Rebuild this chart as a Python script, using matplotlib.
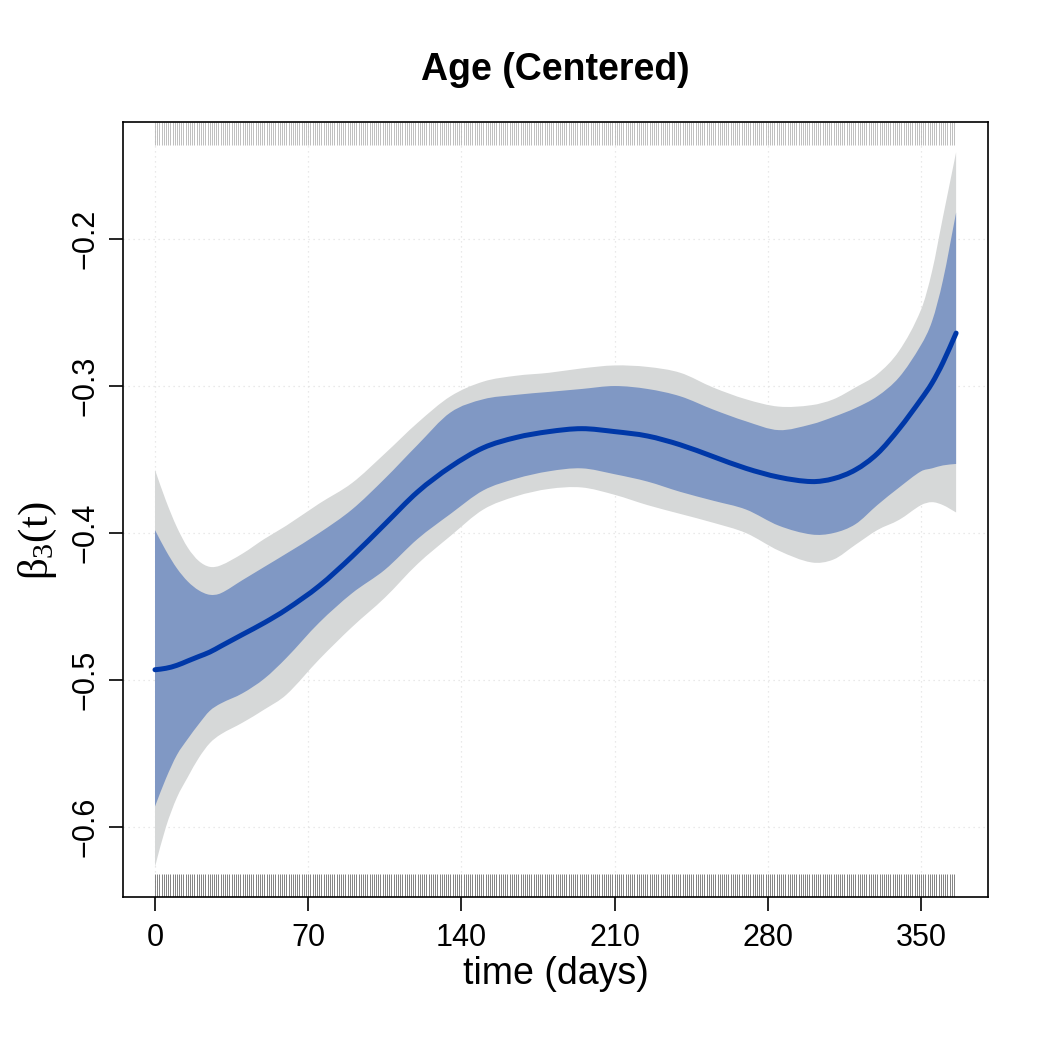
import numpy as np
import matplotlib
matplotlib.use('Agg')
import matplotlib.pyplot as plt
import matplotlib.transforms as mtransforms
from matplotlib.path import Path
from matplotlib.patches import PathPatch

# Estimated coefficient curve and pointwise / simultaneous bands
days = [0, 5, 10, 15, 20, 25, 30, 40, 50, 60, 75, 90, 105, 120, 135, 150,
        165, 180, 195, 210, 225, 240, 255, 270, 285, 300, 310, 320, 330,
        340, 350, 355, 360, 366]

beta = [-0.493, -0.492, -0.490, -0.487, -0.484, -0.481, -0.477, -0.469,
        -0.461, -0.452, -0.436, -0.416, -0.394, -0.372, -0.355, -0.342,
        -0.335, -0.331, -0.329, -0.331, -0.334, -0.340, -0.348, -0.356,
        -0.362, -0.365, -0.363, -0.357, -0.346, -0.329, -0.309, -0.298,
        -0.284, -0.264]

inner_hi = [-0.398, -0.412, -0.424, -0.433, -0.439, -0.442, -0.441, -0.432,
            -0.423, -0.414, -0.400, -0.384, -0.363, -0.340, -0.318, -0.309,
            -0.306, -0.304, -0.302, -0.300, -0.302, -0.307, -0.316, -0.324,
            -0.330, -0.326, -0.321, -0.315, -0.307, -0.294, -0.272, -0.256,
            -0.228, -0.182]

inner_lo = [-0.586, -0.567, -0.551, -0.540, -0.530, -0.521, -0.516, -0.509,
            -0.499, -0.485, -0.461, -0.441, -0.425, -0.404, -0.387, -0.371,
            -0.363, -0.358, -0.356, -0.360, -0.365, -0.372, -0.378, -0.384,
            -0.395, -0.401, -0.400, -0.394, -0.381, -0.369, -0.358, -0.356,
            -0.354, -0.353]

outer_hi = [-0.357, -0.378, -0.396, -0.410, -0.419, -0.423, -0.422, -0.414,
            -0.404, -0.395, -0.380, -0.366, -0.346, -0.325, -0.307, -0.297,
            -0.293, -0.291, -0.288, -0.286, -0.287, -0.291, -0.301, -0.309,
            -0.314, -0.313, -0.309, -0.301, -0.292, -0.276, -0.248, -0.222,
            -0.185, -0.141]

outer_lo = [-0.627, -0.600, -0.580, -0.566, -0.553, -0.543, -0.537, -0.529,
            -0.520, -0.510, -0.486, -0.464, -0.444, -0.421, -0.402, -0.384,
            -0.375, -0.370, -0.369, -0.374, -0.381, -0.387, -0.393, -0.400,
            -0.412, -0.420, -0.418, -0.408, -0.398, -0.391, -0.381, -0.379,
            -0.381, -0.386]

# observed event / censoring times (rug)
rug_days = list(range(0, 366))

x_ticks = [0, 70, 140, 210, 280, 350]
y_ticks = [-0.6, -0.5, -0.4, -0.3, -0.2]


def smooth_segments(x, y):
    # cubic Hermite pieces through the points, as bezier control points
    x = np.asarray(x, float)
    y = np.asarray(y, float)
    n = len(x)
    m = np.zeros(n)
    m[0] = (y[1] - y[0]) / (x[1] - x[0])
    m[-1] = (y[-1] - y[-2]) / (x[-1] - x[-2])
    for i in range(1, n - 1):
        m[i] = (y[i + 1] - y[i - 1]) / (x[i + 1] - x[i - 1])
    verts = []
    for i in range(n - 1):
        h = x[i + 1] - x[i]
        verts.append((x[i] + h / 3, y[i] + m[i] * h / 3))
        verts.append((x[i + 1] - h / 3, y[i + 1] - m[i + 1] * h / 3))
        verts.append((x[i + 1], y[i + 1]))
    return verts


def curve_path(x, y):
    verts = [(x[0], y[0])] + smooth_segments(x, y)
    codes = [Path.MOVETO] + [Path.CURVE4] * (len(verts) - 1)
    return Path(verts, codes)


def band_path(x, lo, hi):
    up = smooth_segments(x, hi)
    down = smooth_segments(x[::-1], lo[::-1])
    verts = [(x[0], hi[0])] + up + [(x[-1], lo[-1])] + down + [(x[0], hi[0])]
    codes = ([Path.MOVETO] + [Path.CURVE4] * len(up) + [Path.LINETO]
             + [Path.CURVE4] * len(down) + [Path.CLOSEPOLY])
    return Path(verts, codes)


plt.rcParams['font.family'] = ['Liberation Sans', 'DejaVu Sans']
plt.rcParams['mathtext.fontset'] = 'custom'
plt.rcParams['mathtext.rm'] = 'Liberation Serif'
plt.rcParams['mathtext.it'] = 'Liberation Serif'

fig = plt.figure(figsize=(10.5, 10.5), dpi=100)
ax = fig.add_axes([0.1171, 0.1457, 0.8240, 0.7381])

ax.add_patch(PathPatch(band_path(days, outer_lo, outer_hi), facecolor='#d6d8d8',
                       edgecolor='none', zorder=2))
ax.add_patch(PathPatch(band_path(days, inner_lo, inner_hi), facecolor='#8098c4',
                       edgecolor='none', zorder=3))
ax.add_patch(PathPatch(curve_path(days, beta), facecolor='none', edgecolor='#0038a8',
                       lw=3.6, capstyle='round', zorder=4))

# rugs at top and bottom
trans = mtransforms.blended_transform_factory(ax.transData, ax.transAxes)
ax.vlines(rug_days, 0.97, 1.0, transform=trans, color='#b4b4b4', lw=0.6, zorder=1)
ax.vlines(rug_days, 0.0, 0.03, transform=trans, color='#6e6e6e', lw=0.6, zorder=1)

ax.set_xlim(-14.64, 380.64)
ax.set_ylim(-0.6476, -0.1204)
ax.set_xticks(x_ticks)
ax.set_yticks(y_ticks)
ax.set_xticklabels([str(v) for v in x_ticks])
ax.set_yticklabels(['\u2212' + str(abs(v)) for v in y_ticks], rotation=90, va='center')
ax.tick_params(axis='both', labelsize=22, length=10, width=1.2, color='black')
ax.tick_params(axis='x', pad=9)
ax.tick_params(axis='y', pad=6)
ax.grid(True, color='#e2e2e2', linestyle=(0, (1, 3)), lw=0.9, zorder=0)
ax.set_axisbelow(True)
for s in ax.spines.values():
    s.set_linewidth(1.2)
    s.set_color('black')

ax.set_title('Age (Centered)', fontsize=27, fontweight='bold', pad=30)
ax.set_xlabel('time (days)', fontsize=27, labelpad=2)
ax.set_ylabel(r'$\beta_3(\mathrm{t})$', fontsize=31)
ax.yaxis.set_label_coords(-0.074, 0.46)

fig.savefig('out.png', dpi=100, facecolor='white')
